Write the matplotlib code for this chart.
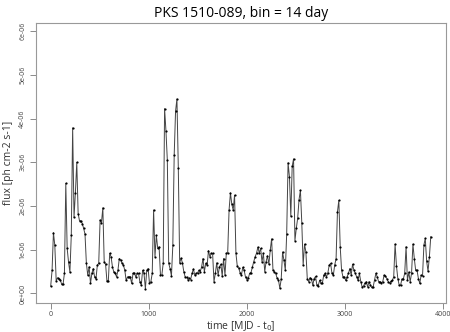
import matplotlib
matplotlib.use("Agg")
import matplotlib.pyplot as plt
import numpy as np

plt.rcParams['font.family'] = ['Open Sans', 'DejaVu Sans']

bin_days = 14

# light curve, flux in units of 1e-6 ph cm-2 s-1, one value per 14-day bin
flux = [
    0.17, 0.53, 1.39, 1.10, 0.29, 0.36, 0.34, 0.31, 0.21, 0.21,
    0.46, 2.52, 1.03, 0.72, 0.49, 1.33, 3.79, 1.75, 2.30, 3.00,
    1.83, 1.66, 1.66, 1.60, 1.49, 1.36, 0.69, 0.42, 0.61, 0.23,
    0.46, 0.57, 0.38, 0.34, 0.65, 0.69, 1.68, 1.62, 1.96, 0.72,
    0.67, 0.28, 0.29, 0.92, 0.84,
    0.61, 0.49, 0.46, 0.38, 0.53, 0.80, 0.76, 0.69, 0.65, 0.53,
    0.30, 0.38, 0.38, 0.38, 0.23, 0.46, 0.47, 0.38, 0.46, 0.46,
    0.27, 0.19, 0.53, 0.46, 0.11, 0.53, 0.57, 0.23, 0.27, 0.46,
    1.91, 0.84, 1.33, 1.03, 1.07, 0.42, 0.42, 0.69, 4.23, 3.72,
    3.05, 0.69, 0.57, 0.40, 1.10, 3.16, 4.17, 4.45, 2.88, 0.70,
    0.81, 0.70, 0.50, 0.38, 0.37, 0.32, 0.35, 0.32, 0.46, 0.56,
    0.42, 0.46, 0.47, 0.53, 0.50, 0.61, 0.80, 0.50, 0.69, 0.65,
    0.98, 0.84, 0.92, 0.92, 0.27, 0.46, 0.70, 0.42, 0.61, 0.67,
    0.40, 0.80, 0.42, 0.92, 0.93, 1.91, 2.30, 2.04, 1.91, 2.25,
    0.92, 0.62, 0.58, 0.48, 0.42, 0.60, 0.53, 0.37, 0.32, 0.35,
    0.46, 0.48, 0.61, 0.73, 0.84, 0.92, 1.06, 0.93, 1.03, 0.73,
    0.92, 0.50, 0.73, 0.86, 0.67, 0.99, 1.25, 0.53, 0.50, 0.46,
    0.35, 0.31, 0.12, 0.33, 0.95, 0.76, 0.53, 1.37, 2.99, 2.67,
    1.77, 2.91, 3.08,
    1.21, 1.49, 1.72, 2.15,
    2.36, 1.62, 0.65, 1.13, 0.95, 0.34, 0.27, 0.36, 0.34, 0.19,
    0.34, 0.39, 0.19, 0.18, 0.30, 0.23, 0.24, 0.42, 0.46, 0.38,
    0.47, 0.65, 0.69, 0.46, 0.42, 0.65, 0.80, 1.87, 2.13, 1.07,
    0.53, 0.38, 0.38, 0.30, 0.38, 0.46, 0.57, 0.42, 0.67, 0.53,
    0.46, 0.38, 0.30, 0.46, 0.27, 0.15, 0.17, 0.24, 0.27, 0.15,
    0.27, 0.19, 0.14, 0.15, 0.30, 0.46, 0.38, 0.27, 0.27, 0.24,
    0.27, 0.42, 0.40, 0.34, 0.27, 0.24, 0.28, 0.30, 0.38, 1.13,
    0.63, 0.34, 0.19, 0.19, 0.33, 0.33, 0.46, 1.07, 0.30, 0.49,
    0.27, 0.46, 1.13, 0.80, 0.53, 0.53, 0.34, 0.23, 0.42, 0.40,
    1.11, 1.26, 0.74, 0.51, 0.84, 1.30,
]

x_ticks = [0, 1000, 2000, 3000, 4000]
y_ticks = [0, 1e-6, 2e-6, 3e-6, 4e-6, 5e-6, 6e-6]
y_tick_labels = ['0e+00', '1e-06', '2e-06', '3e-06', '4e-06', '5e-06', '6e-06']

t = np.arange(len(flux)) * bin_days
f = np.array(flux) * 1e-6

fig = plt.figure(figsize=(4.5, 3.32), dpi=100)
ax = fig.add_axes([0.08, 0.087, 0.911, 0.844])

ax.plot(t, f, color='#444444', linewidth=0.7)
ax.plot(t, f, 'o', color='black', markersize=1.6, markeredgewidth=0)

ax.set_xlim(-150, 4033)
ax.set_ylim(-0.22e-6, 6.19e-6)

ax.set_xticks(x_ticks)
ax.set_xticklabels([str(v) for v in x_ticks])
ax.set_yticks(y_ticks)
ax.set_yticklabels(y_tick_labels, rotation=90, va='center')

gray = '#777777'
for s in ax.spines.values():
    s.set_color('#999999')
    s.set_linewidth(0.8)
ax.tick_params(axis='both', colors=gray, labelsize=5, length=4, width=0.6, pad=3)
ax.tick_params(axis='x', labelcolor='#444444', pad=2)
ax.tick_params(axis='y', labelcolor='#444444')

ax.set_title('PKS 1510-089, bin = 14 day', fontsize=10, pad=4)
# x label placed by hand so it stays inside the small canvas
fig.text(0.535, 0.018, 'time [MJD - t$_0$]', fontsize=7.5, color='#333333',
         ha='center', va='center')
ax.set_ylabel('flux [ph cm-2 s-1]', fontsize=7.5, labelpad=4, color='#333333')

fig.savefig('out.png', dpi=100)
